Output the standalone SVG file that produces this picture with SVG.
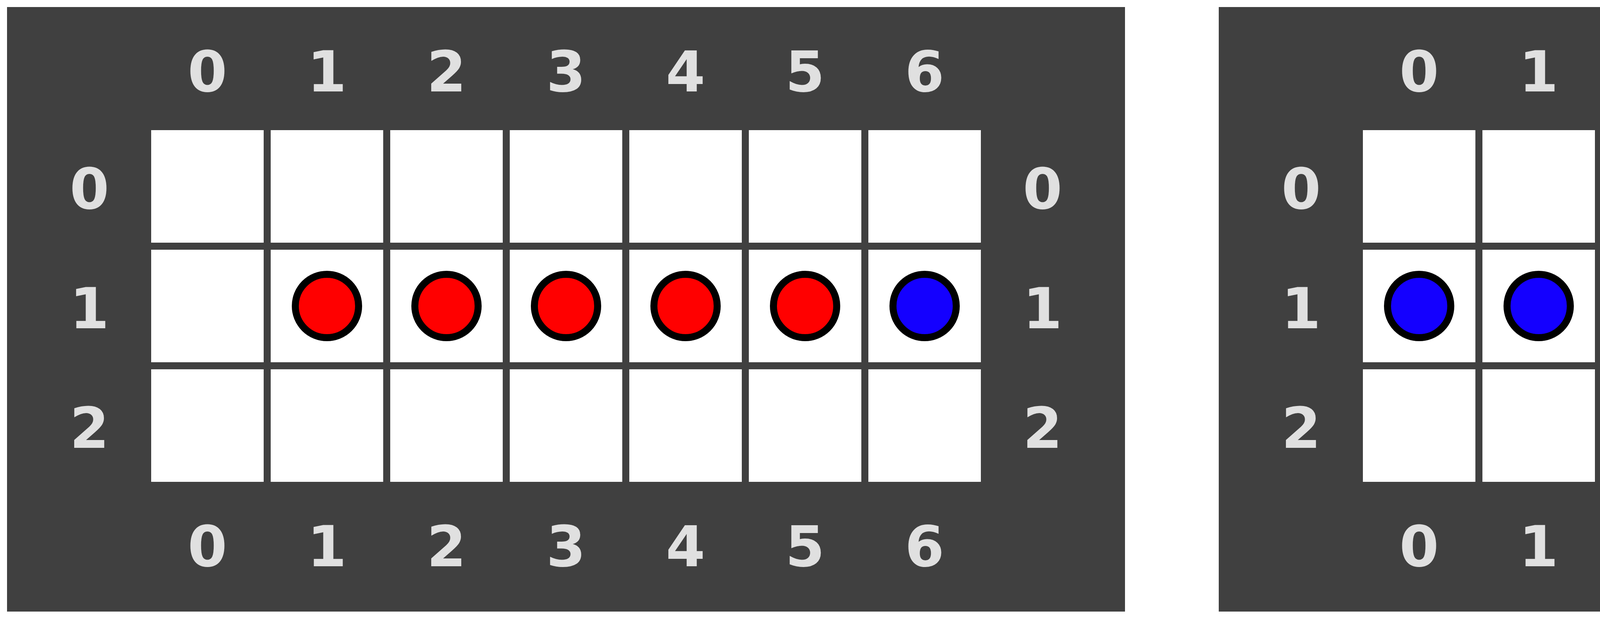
<svg xmlns="http://www.w3.org/2000/svg" width="6000" height="1584" viewBox="0 0 6000 1584">
<defs>
<style>
.panel{fill:#404040}
.cell{fill:#ffffff}
.lbl{font-family:"DejaVu Sans",Verdana,sans-serif;font-weight:bold;font-size:145px;fill:#e0e0e0;text-anchor:middle}
.red{fill:#ff0000;stroke:#000000;stroke-width:18}
.blue{fill:#1400ff;stroke:#000000;stroke-width:18}
</style>
<g id="board">
<rect class="cell" x="0" y="0" width="288" height="288"/>
<rect class="cell" x="306" y="0" width="288" height="288"/>
<rect class="cell" x="612" y="0" width="288" height="288"/>
<rect class="cell" x="918" y="0" width="288" height="288"/>
<rect class="cell" x="1224" y="0" width="288" height="288"/>
<rect class="cell" x="1530" y="0" width="288" height="288"/>
<rect class="cell" x="1836" y="0" width="288" height="288"/>
<rect class="cell" x="0" y="306" width="288" height="288"/>
<rect class="cell" x="306" y="306" width="288" height="288"/>
<rect class="cell" x="612" y="306" width="288" height="288"/>
<rect class="cell" x="918" y="306" width="288" height="288"/>
<rect class="cell" x="1224" y="306" width="288" height="288"/>
<rect class="cell" x="1530" y="306" width="288" height="288"/>
<rect class="cell" x="1836" y="306" width="288" height="288"/>
<rect class="cell" x="0" y="612" width="288" height="288"/>
<rect class="cell" x="306" y="612" width="288" height="288"/>
<rect class="cell" x="612" y="612" width="288" height="288"/>
<rect class="cell" x="918" y="612" width="288" height="288"/>
<rect class="cell" x="1224" y="612" width="288" height="288"/>
<rect class="cell" x="1530" y="612" width="288" height="288"/>
<rect class="cell" x="1836" y="612" width="288" height="288"/>
</g>
<g id="labels">
<text class="lbl" x="531" y="234">0</text>
<text class="lbl" x="837" y="234">1</text>
<text class="lbl" x="1143" y="234">2</text>
<text class="lbl" x="1449" y="234">3</text>
<text class="lbl" x="1755" y="234">4</text>
<text class="lbl" x="2061" y="234">5</text>
<text class="lbl" x="2367" y="234">6</text>
<text class="lbl" x="531" y="1449">0</text>
<text class="lbl" x="837" y="1449">1</text>
<text class="lbl" x="1143" y="1449">2</text>
<text class="lbl" x="1449" y="1449">3</text>
<text class="lbl" x="1755" y="1449">4</text>
<text class="lbl" x="2061" y="1449">5</text>
<text class="lbl" x="2367" y="1449">6</text>
<text class="lbl" x="229" y="534">0</text>
<text class="lbl" x="229" y="840">1</text>
<text class="lbl" x="229" y="1146">2</text>
<text class="lbl" x="2669" y="534">0</text>
<text class="lbl" x="2669" y="840">1</text>
<text class="lbl" x="2669" y="1146">2</text>
</g>
</defs>
<rect x="0" y="0" width="6000" height="1584" fill="#ffffff"/>

<g id="panel-left">
<rect class="panel" x="18" y="18" width="2862" height="1547"/>
<use href="#board" x="387" y="333"/>
<use href="#labels"/>
<g id="pieces-left">
<circle class="red" cx="837" cy="783" r="81"/>
<circle class="red" cx="1143" cy="783" r="81"/>
<circle class="red" cx="1449" cy="783" r="81"/>
<circle class="red" cx="1755" cy="783" r="81"/>
<circle class="red" cx="2061" cy="783" r="81"/>
<circle class="blue" cx="2367" cy="783" r="81"/>
</g>
</g>

<g id="panel-right">
<rect class="panel" x="3120" y="18" width="2862" height="1547"/>
<use href="#board" x="3489" y="333"/>
<use href="#labels" x="3102" y="0"/>
<g id="pieces-right">
<circle class="blue" cx="3633" cy="783" r="81"/>
<circle class="blue" cx="3939" cy="783" r="81"/>
<circle class="blue" cx="4245" cy="783" r="81"/>
<circle class="blue" cx="4551" cy="783" r="81"/>
<circle class="blue" cx="4857" cy="783" r="81"/>
<circle class="blue" cx="5163" cy="783" r="81"/>
<circle class="blue" cx="5469" cy="783" r="81"/>
</g>
</g>

<g id="connectors"></g>
</svg>
